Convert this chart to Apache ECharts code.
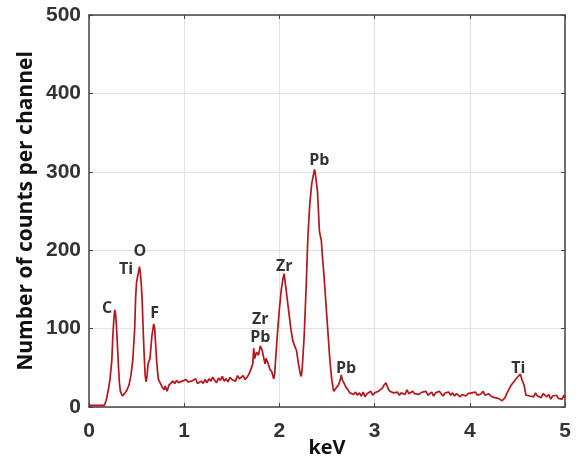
<!DOCTYPE html>
<html><head><meta charset="utf-8">
<script src="https://cdn.jsdelivr.net/npm/echarts@6/dist/echarts.min.js"></script>
<style>html,body{margin:0;padding:0;background:#fff}#c{width:579px;height:460px}</style>
</head><body><div id="c"></div>
<script>
const energy = [0.00,0.10,0.16,0.18,0.20,0.22,0.24,0.25,0.26,0.27,0.28,0.29,0.30,0.31,0.32,0.33,0.35,0.36,0.38,0.40,0.42,0.44,0.46,0.48,0.49,0.50,0.51,0.52,0.53,0.54,0.55,0.56,0.57,0.58,0.59,0.60,0.61,0.62,0.64,0.65,0.66,0.67,0.68,0.69,0.70,0.71,0.72,0.73,0.75,0.77,0.79,0.80,0.82,0.84,0.86,0.88,0.90,0.92,0.94,0.96,0.98,1.00,1.02,1.04,1.06,1.08,1.10,1.12,1.14,1.16,1.18,1.20,1.22,1.24,1.26,1.28,1.30,1.32,1.34,1.36,1.38,1.40,1.42,1.44,1.46,1.48,1.50,1.52,1.54,1.56,1.58,1.60,1.62,1.64,1.66,1.68,1.70,1.72,1.73,1.74,1.76,1.78,1.80,1.81,1.82,1.84,1.85,1.86,1.88,1.90,1.92,1.94,1.95,1.96,1.98,2.00,2.02,2.04,2.05,2.06,2.08,2.10,2.12,2.14,2.16,2.18,2.20,2.22,2.23,2.24,2.26,2.28,2.30,2.32,2.34,2.36,2.37,2.38,2.40,2.41,2.42,2.43,2.44,2.45,2.47,2.49,2.51,2.53,2.55,2.57,2.58,2.60,2.62,2.64,2.65,2.66,2.68,2.70,2.72,2.74,2.76,2.78,2.80,2.82,2.84,2.86,2.88,2.90,2.92,2.94,2.96,2.98,3.00,3.02,3.04,3.06,3.08,3.10,3.12,3.14,3.16,3.18,3.20,3.22,3.24,3.26,3.28,3.30,3.32,3.34,3.36,3.38,3.40,3.42,3.44,3.46,3.48,3.50,3.52,3.54,3.56,3.58,3.60,3.62,3.64,3.66,3.68,3.70,3.72,3.74,3.76,3.78,3.80,3.82,3.84,3.86,3.88,3.90,3.92,3.94,3.96,3.98,4.00,4.02,4.04,4.06,4.08,4.10,4.12,4.14,4.16,4.18,4.20,4.22,4.24,4.26,4.28,4.30,4.32,4.34,4.35,4.37,4.40,4.43,4.46,4.48,4.50,4.52,4.53,4.55,4.57,4.59,4.61,4.63,4.65,4.67,4.69,4.71,4.73,4.75,4.77,4.79,4.81,4.83,4.85,4.87,4.89,4.91,4.93,4.95,4.97,4.99,5.00];
const counts = [2,2,2,8,20,35,60,90,110,124,118,100,75,50,30,20,14,13,18,22,28,40,60,100,140,160,158,172,179,170,155,130,95,65,40,32,40,55,62,75,90,98,106,100,80,60,45,35,30,25,22,27,20,28,26,33,30,34,31,30,33,31,35,32,30,33,31,36,30,28,33,30,35,31,36,33,38,34,31,37,34,39,33,36,32,38,35,37,33,40,36,34,40,35,38,42,48,55,75,62,70,66,78,80,72,60,55,62,56,48,45,36,42,60,95,125,150,165,170,160,140,120,100,85,78,72,55,42,39,50,90,150,220,260,285,298,303,295,275,250,225,218,213,195,165,130,95,60,35,20,18,25,28,35,41,35,30,25,22,18,20,16,19,15,18,14,19,13,17,16,20,15,18,16,20,22,24,28,31,24,20,22,18,16,19,15,18,20,16,22,17,19,20,17,19,16,15,19,18,20,15,17,19,14,18,16,20,17,14,18,16,19,15,18,14,17,19,13,16,18,14,17,15,18,16,19,15,14,17,20,15,13,17,14,16,12,14,11,13,8,6,12,20,27,32,35,38,36,42,34,28,15,17,14,16,13,18,14,16,12,17,15,13,16,10,14,12,15,11,13,10,15,12];
const labelText = ['C','Ti','O','F','Zr','Pb','Zr','Pb','Pb','Ti'];
const labelX = [0.19,0.39,0.535,0.69,1.80,1.80,2.05,2.42,2.70,4.51];
const labelY = [126,175,198,119,112,89,179,315,49,49];
const xTicks = [0,1,2,3,4,5];
const yTicks = [0,100,200,300,400,500];

const chart = echarts.init(document.getElementById('c'));
const tickFont = {fontFamily:'Liberation Sans Narrow, Arial Narrow, Liberation Sans, sans-serif', fontWeight:'bold', fontSize:21, color:'#333'};
const axisLineStyle = {color:'#444', width:1.5};
chart.setOption({
  animation:false,
  grid:{left:89, top:15, width:476, height:392, outerBoundsMode:'none', containLabel:false},
  xAxis:[{
    type:'value', min:0, max:5, interval:1,
    axisLine:{show:true, onZero:false, lineStyle:axisLineStyle},
    axisTick:{show:true, inside:true, length:4, lineStyle:{color:'#444'}},
    splitLine:{show:true, lineStyle:{color:'#e2e2e2', width:1}},
    axisLabel:Object.assign({margin:14, formatter:v=>xTicks.includes(v)?String(v):''}, tickFont),
    name:'keV', nameLocation:'middle', nameGap:31, nameMoveOverlap:false,
    nameTextStyle:{fontFamily:'Open Sans, sans-serif', fontWeight:'bold', fontSize:20, color:'#111'}
  },{
    type:'value', min:0, max:5, interval:1, position:'top',
    axisLine:{show:true, onZero:false, lineStyle:axisLineStyle},
    axisTick:{show:true, inside:true, length:4, lineStyle:{color:'#444'}},
    splitLine:{show:false}, axisLabel:{show:false}
  }],
  yAxis:[{
    type:'value', min:0, max:500, interval:100,
    axisLine:{show:true, onZero:false, lineStyle:axisLineStyle},
    axisTick:{show:true, inside:true, length:4, lineStyle:{color:'#444'}},
    splitLine:{show:true, lineStyle:{color:'#e2e2e2', width:1}},
    axisLabel:Object.assign({margin:8, formatter:v=>yTicks.includes(v)?String(v):''}, tickFont),
    name:'Number of counts per channel', nameLocation:'middle', nameGap:52, nameMoveOverlap:false,
    nameTextStyle:{fontFamily:'Open Sans, sans-serif', fontWeight:'bold', fontSize:21, color:'#111'}
  },{
    type:'value', min:0, max:500, interval:100, position:'right',
    axisLine:{show:true, onZero:false, lineStyle:axisLineStyle},
    axisTick:{show:true, inside:true, length:4, lineStyle:{color:'#444'}},
    splitLine:{show:false}, axisLabel:{show:false}
  }],
  series:[{
    type:'line', xAxisIndex:0, yAxisIndex:0,
    data: energy.map((e,i)=>[e, counts[i]]),
    showSymbol:false, symbol:'none',
    lineStyle:{color:'#b3161d', width:1.7},
    z:3
  },{
    type:'scatter', xAxisIndex:0, yAxisIndex:0,
    data: labelX.map((x,i)=>[x, labelY[i], labelText[i]]),
    symbolSize:0, silent:true,
    label:{show:true, position:'inside', formatter:p=>p.data[2],
      fontFamily:'Open Sans, sans-serif', fontWeight:'bold', fontSize:16, color:'#000'},
    z:4
  }]
});
</script></body></html>
